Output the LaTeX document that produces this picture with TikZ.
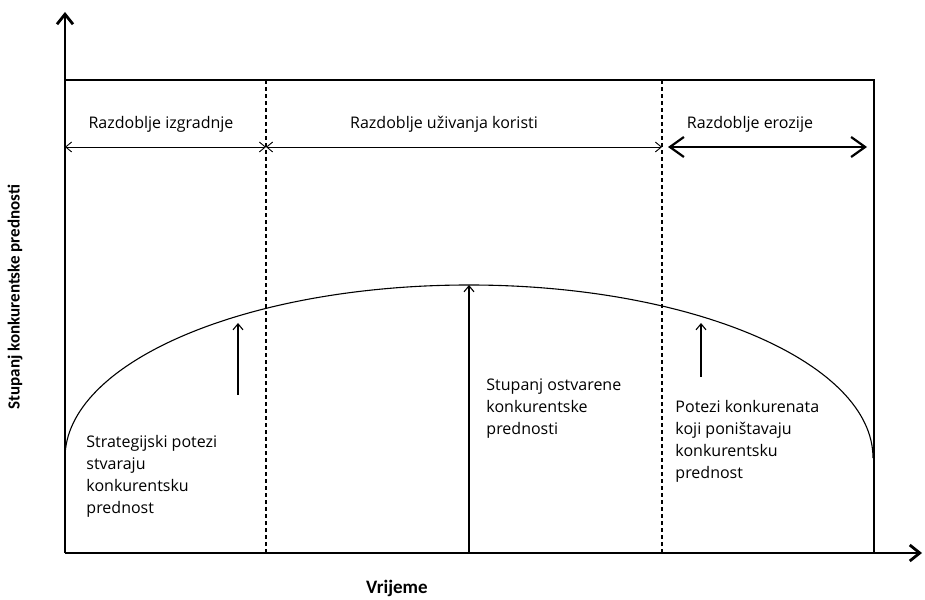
\documentclass[tikz,border=0pt]{standalone}
\usepackage{fontspec}
\setmainfont{Open Sans}
\newfontfamily\axisfont{Carlito}
\usetikzlibrary{arrows.meta,positioning}

\begin{document}
\begin{tikzpicture} [x=1pt,y=1pt,line width=0.9pt,
    axis/.style={line width=2.8pt,-{Straight Barb[length=10pt,width=16pt]}},
    span/.style={{Straight Barb[length=6pt,width=10pt]}-{Straight Barb[length=6pt,width=10pt]}},
    bigspan/.style={line width=2.2pt,{Straight Barb[length=14pt,width=20pt]}-{Straight Barb[length=14pt,width=20pt]}},
    up/.style={line width=1.1pt,-{Straight Barb[length=6pt,width=10pt]}},
    period/.style={font=\fontsize{16}{22}\selectfont,inner sep=0pt},
    note/.style={font=\fontsize{16}{22}\selectfont,align=left,anchor=north west,inner sep=0pt},
    axislabel/.style={font=\axisfont\bfseries\fontsize{17}{20}\selectfont}]

  \useasboundingbox (-65,-46) rectangle (860,553);

  % axes and frame
  \coordinate (O) at (0,0);
  \coordinate (ytop) at (0,541);
  \coordinate (xend) at (857,0);
  \coordinate (tl) at (0,473);
  \coordinate (br) at (809,0);
  \draw[line width=1.4pt] (tl) -| (br);
  \draw[axis] (O) -- (ytop);
  \draw[axis] (O) -- (xend);

  % period borders
  \coordinate (d1) at (201,0);
  \coordinate (d2) at (597,0);
  \draw[line width=1.2pt,dash pattern=on 4pt off 3pt] (d1) -- (d1 |- tl);
  \draw[line width=1.2pt,dash pattern=on 4pt off 3pt] (d2) -- (d2 |- tl);

  % period arrows
  \coordinate (a0) at (0,406);
  \coordinate (a1) at (201,406);
  \coordinate (a2) at (597,406);
  \coordinate (a3) at (603,406);
  \coordinate (a4) at (802,406);
  \path (a0) edge[span] (a1)
        (a1) edge[span] (a2)
        (a3) edge[bigspan] (a4);

  \node[period] (p1) at (96,429) {Razdoblje izgradnje};
  \node[period] (p2) at (379,429) {Razdoblje uživanja koristi};
  \node[period] (p3) at (685,429) {Razdoblje erozije};

  % curve
  \coordinate (c0) at (0,95);
  \coordinate (peak) at (404,268);
  \draw[line width=1.1pt] (c0) arc[start angle=180,end angle=0,x radius=404pt,y radius=173pt];

  % arrows to the curve
  \coordinate (m0) at (404,0);
  \coordinate (l0) at (173,158);
  \coordinate (l1) at (173,230);
  \coordinate (r0) at (636,176);
  \coordinate (r1) at (636,230);
  \path (m0) edge[up] (peak)
        (l0) edge[up] (l1)
        (r0) edge[up] (r1);

  \node[note] (t1) at (21,118) {Strategijski potezi\\stvaraju\\konkurentsku\\prednost};
  \node[note] (t2) at (421,175) {Stupanj ostvarene\\konkurentske\\prednosti};
  \node[note] (t3) at (610,153) {Potezi konkurenata\\koji poništavaju\\konkurentsku\\prednost};

  \node[axislabel,rotate=90] (ylab) at (-50,256) {Stupanj konkurentske prednosti};
  \node[axislabel,font=\axisfont\bfseries\fontsize{19}{22}\selectfont] (xlab) at (332,-35) {Vrijeme};
\end{tikzpicture}
\end{document}
